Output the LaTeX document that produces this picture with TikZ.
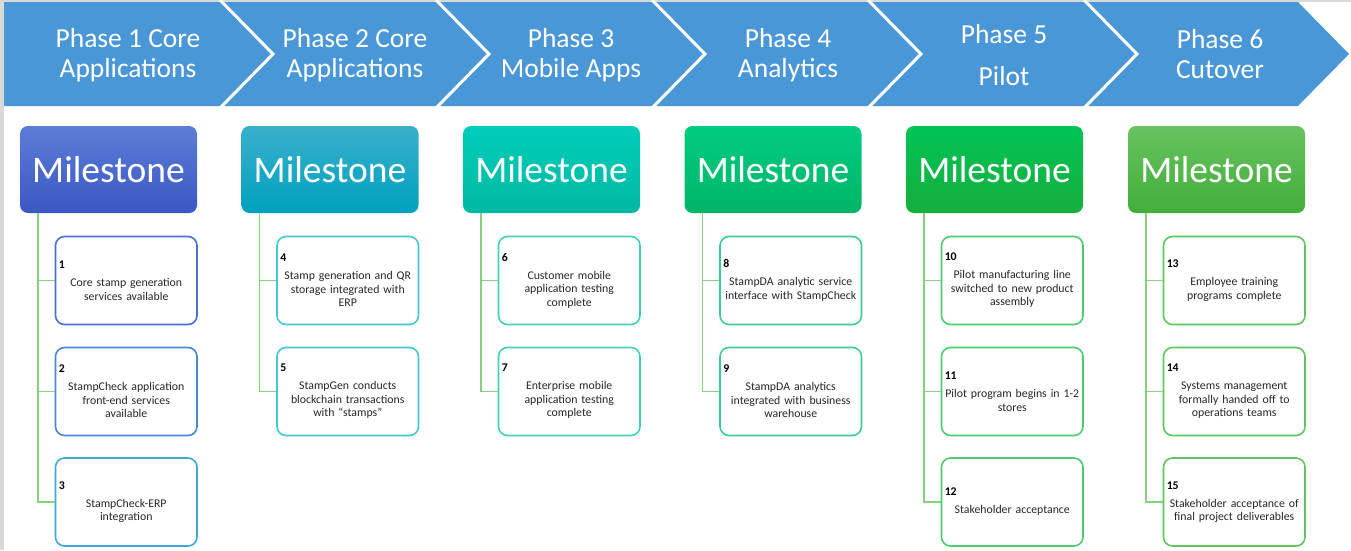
\documentclass[tikz,border=0pt]{standalone}
\usepackage{fontspec}
\setmainfont{Carlito}
\definecolor{band}{HTML}{4A97D7}
\definecolor{frame}{HTML}{D9D9D9}
\definecolor{conncol}{HTML}{86D27E}
\definecolor{txt}{HTML}{262626}
\definecolor{mAt}{HTML}{5C7ED6}\definecolor{mAb}{HTML}{3A57C4}
\definecolor{mBt}{HTML}{3AAFCC}\definecolor{mBb}{HTML}{00A2BF}
\definecolor{mCt}{HTML}{00CDBA}\definecolor{mCb}{HTML}{00B9A2}
\definecolor{mDt}{HTML}{00CC82}\definecolor{mDb}{HTML}{00B567}
\definecolor{mEt}{HTML}{00C456}\definecolor{mEb}{HTML}{18AE3E}
\definecolor{mFt}{HTML}{67C35F}\definecolor{mFb}{HTML}{43AD3A}
\definecolor{cA1}{HTML}{4A70CF}\definecolor{cA2}{HTML}{4A86D2}\definecolor{cA3}{HTML}{41A6D8}
\definecolor{cB}{HTML}{42C6D8}
\definecolor{cC}{HTML}{3FD2B5}
\definecolor{cD}{HTML}{3ECC95}
\definecolor{cE}{HTML}{4DCB6F}
\definecolor{cF}{HTML}{60C45F}
\newlength{\childw}\setlength{\childw}{135pt}
\newcommand{\nb}[1]{\makebox[\childw][l]{\textbf{\color{black}#1}}\\[4.5pt]}
\tikzset{
  phase/.style={text=white, align=center, font=\fontsize{27.5}{30}\selectfont, inner sep=0pt},
  mile/.style={rounded corners=8pt, minimum width=177pt, minimum height=87pt, inner sep=0pt,
     text=white, font=\fontsize{37.5}{40}\selectfont},
  child/.style={rounded corners=9pt, line width=1.6pt, fill=white, minimum width=141.5pt,
     minimum height=88pt, text width=\childw, inner sep=3pt, align=center, text=txt,
     font=\fontsize{11.8}{13.5}\selectfont},
  conn/.style={draw=conncol, line width=1.5pt}
}
\begin{document}
\begin{tikzpicture}[x=1pt,y=-1pt]
\useasboundingbox (0,0) rectangle (1351,550);
\fill[white] (0,0) rectangle (1351,550);
\fill[frame] (0,0) rectangle (3.5,550);
\fill[frame] (0,0) rectangle (1351,1.5);
% header band
\fill[band] (4,2) -- (1298,2) -- (1349,54) -- (1298,106) -- (4,106) -- cycle;
\foreach \t in {273,489,705,921,1137}
  \draw[white, line width=3pt] ({\t-53},0) -- (\t,54) -- ({\t-53},108);
\node[phase] (p1) at (128,55) {Phase 1 Core\\Applications};
\node[phase] (p2) at (355,55) {Phase 2 Core\\Applications};
\node[phase] (p3) at (571,55) {Phase 3\\Mobile Apps};
\node[phase] (p4) at (788,55) {Phase 4\\Analytics};
\node[phase] (p5) at (1004,55) {Phase 5\\[12pt]Pilot};
\node[phase] (p6) at (1220,54) {Phase 6\\Cutover};
% milestones
\node[mile, top color=mAt, bottom color=mAb] (m1) at (108.5,169.5) {Milestone};
\node[mile, top color=mBt, bottom color=mBb] (m2) at (330,169.5) {Milestone};
\node[mile, top color=mCt, bottom color=mCb] (m3) at (551.5,169.5) {Milestone};
\node[mile, top color=mDt, bottom color=mDb] (m4) at (773,169.5) {Milestone};
\node[mile, top color=mEt, bottom color=mEb] (m5) at (994.5,169.5) {Milestone};
\node[mile, top color=mFt, bottom color=mFb] (m6) at (1216.5,169.5) {Milestone};
% children
\node[child, draw=cA1] (c1) at (126.25,280.5) {\nb{1}Core stamp generation\\services available};
\node[child, draw=cA2] (c2) at (126.25,391.5) {\nb{2}StampCheck application\\front-end services\\available};
\node[child, draw=cA3] (c3) at (126.25,502) {\nb{3}StampCheck-ERP\\integration};
\node[child, draw=cB] (c4) at (347.75,280.5) {\nb{4}Stamp generation and QR\\storage integrated with\\ERP};
\node[child, draw=cB] (c5) at (347.75,391.5) {\nb{5}StampGen conducts\\blockchain transactions\\with “stamps”};
\node[child, draw=cC] (c6) at (569.25,280.5) {\nb{6}Customer mobile\\application testing\\complete};
\node[child, draw=cC] (c7) at (569.25,391.5) {\nb{7}Enterprise mobile\\application testing\\complete};
\node[child, draw=cD] (c8) at (790.75,280.5) {\nb{8}StampDA analytic service\\interface with StampCheck};
\node[child, draw=cD] (c9) at (790.75,391.5) {\nb{9}StampDA analytics\\integrated with business\\warehouse};
\node[child, draw=cE] (c10) at (1012.25,280.5) {\nb{10}Pilot manufacturing line\\switched to new product\\assembly};
\node[child, draw=cE] (c11) at (1012.25,391.5) {\nb{11}Pilot program begins in 1-2\\stores};
\node[child, draw=cE] (c12) at (1012.25,502) {\nb{12}Stakeholder acceptance};
\node[child, draw=cF] (c13) at (1234.25,280.5) {\nb{13}Employee training\\programs complete};
\node[child, draw=cF] (c14) at (1234.25,391.5) {\nb{14}Systems management\\formally handed off to\\operations teams};
\node[child, draw=cF] (c15) at (1234.25,502) {\nb{15}Stakeholder acceptance of\\final project deliverables};
% connectors
\foreach \m/\c in {m1/c1,m1/c2,m1/c3,m2/c4,m2/c5,m3/c6,m3/c7,m4/c8,m4/c9,m5/c10,m5/c11,m5/c12,m6/c13,m6/c14,m6/c15}
  \draw[conn] ([xshift=18pt]\m.south west) |- (\c.west);
\end{tikzpicture}
\end{document}
